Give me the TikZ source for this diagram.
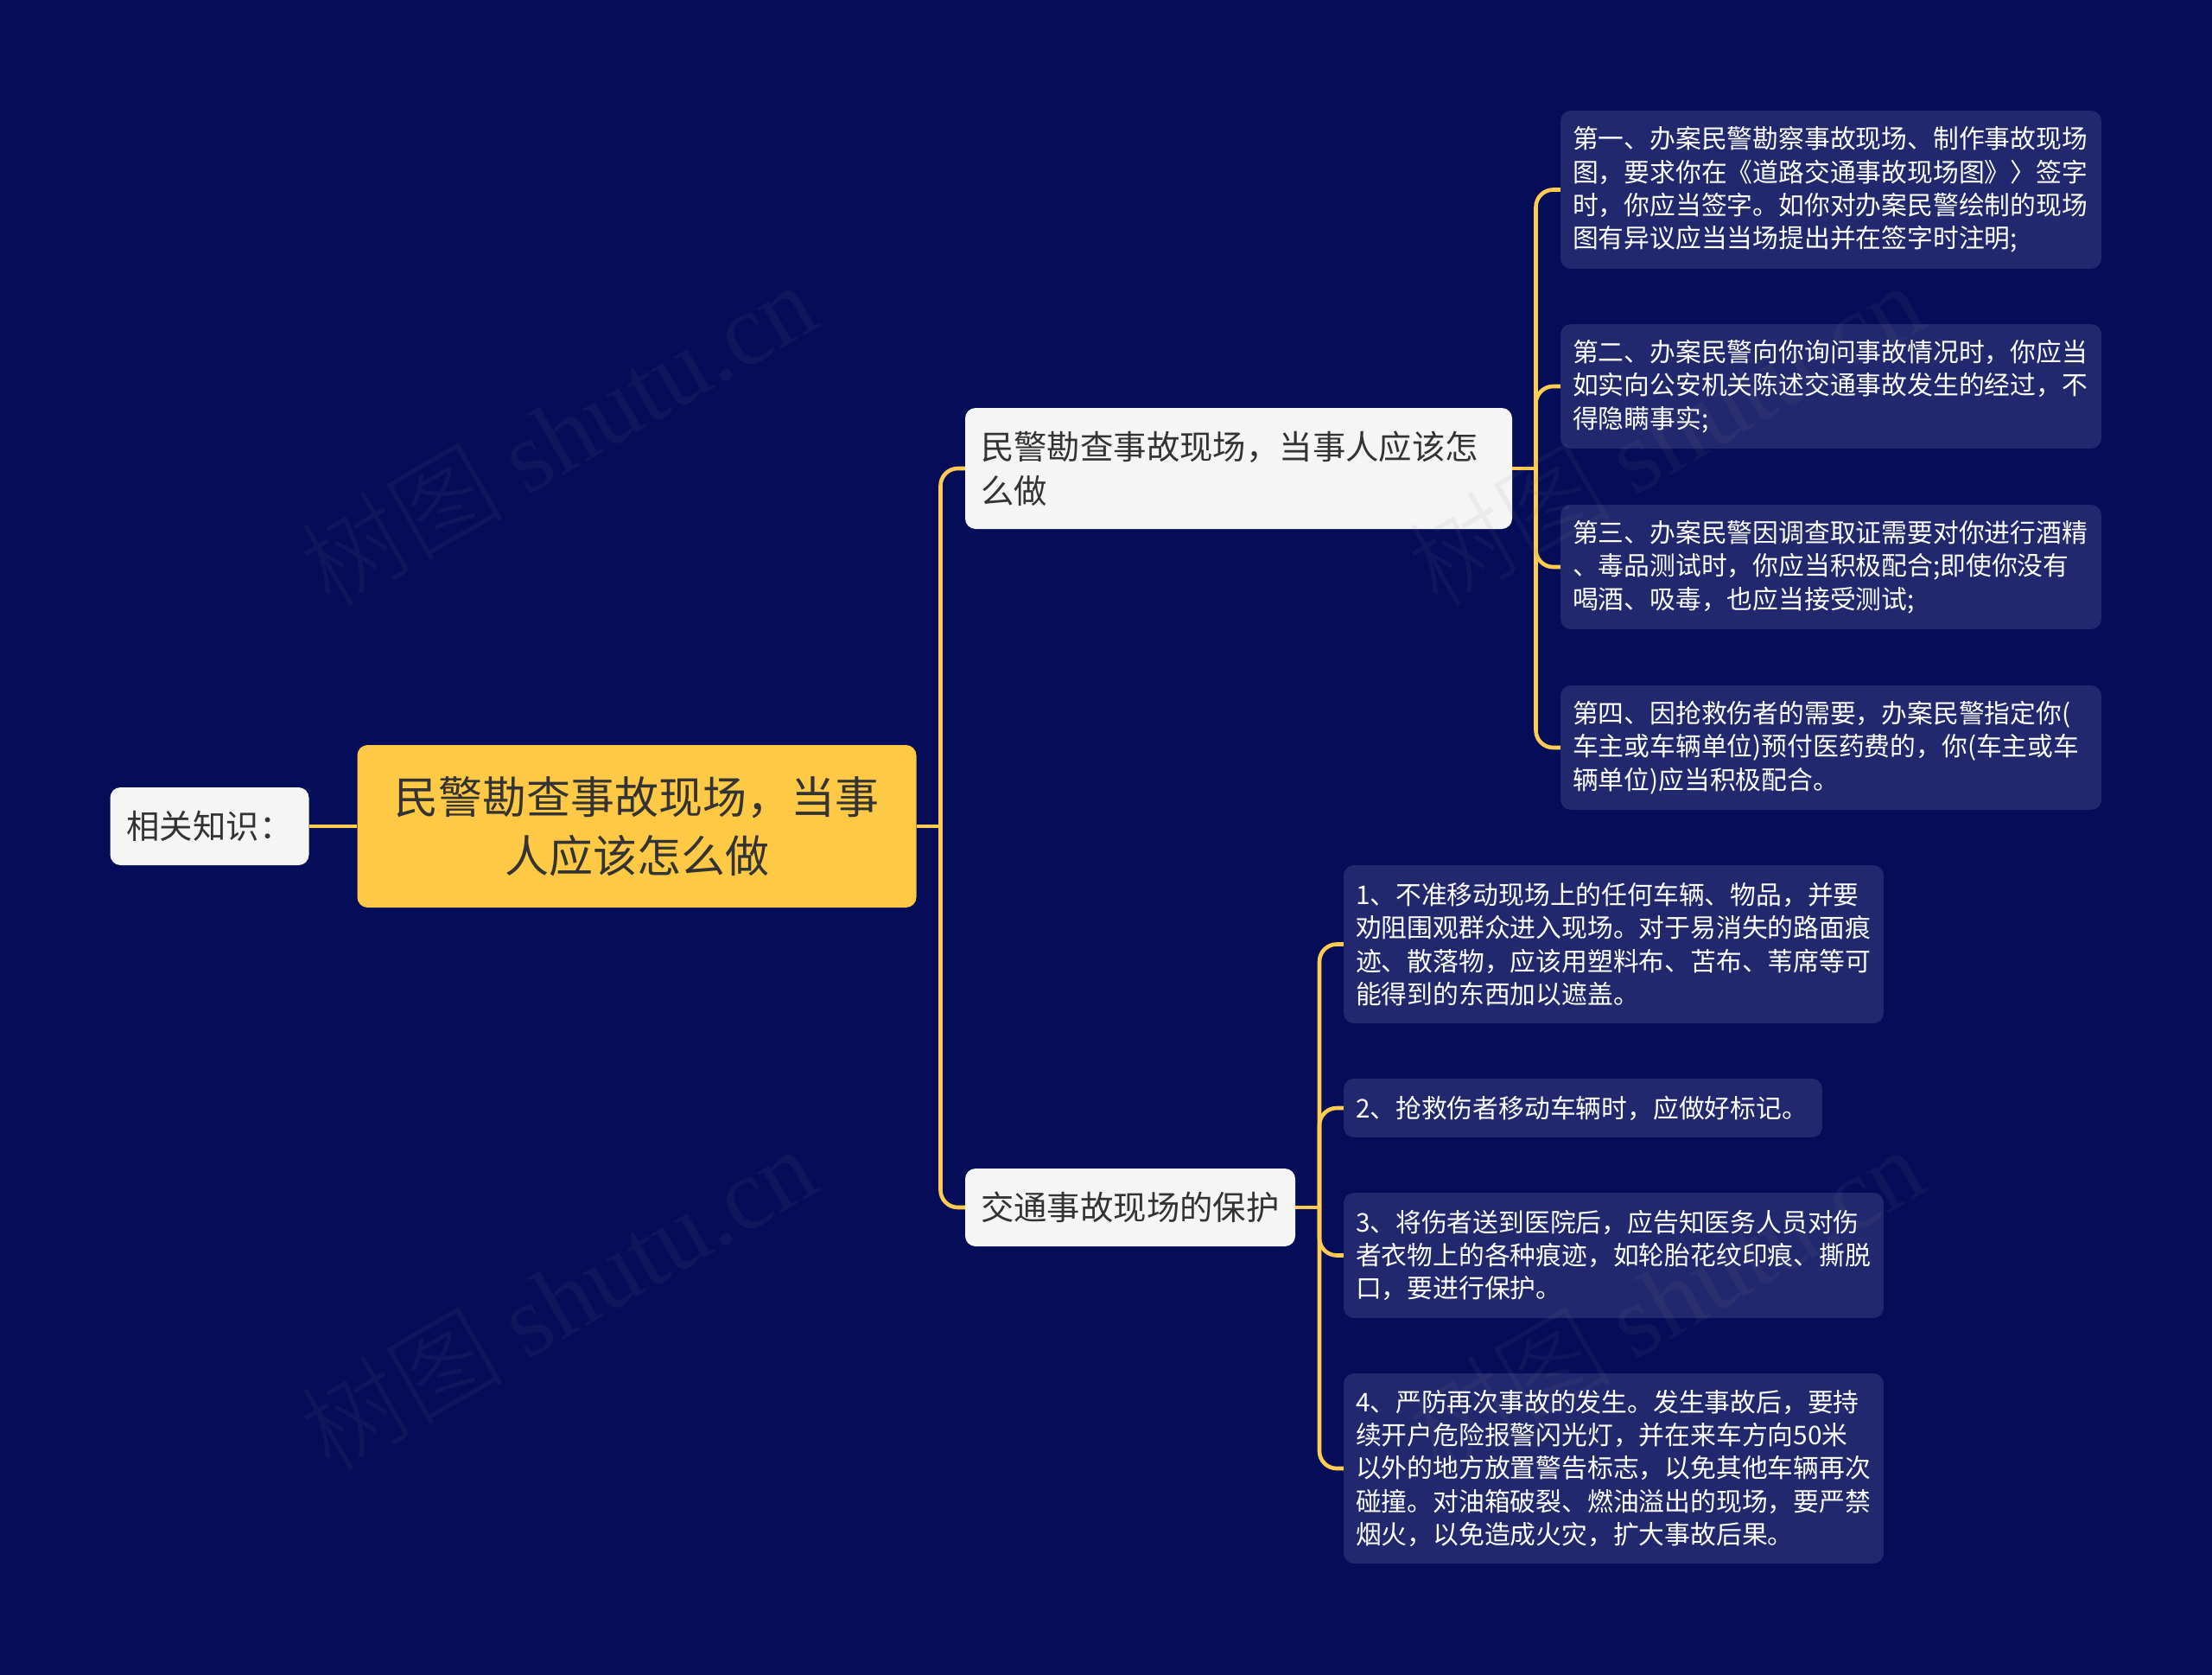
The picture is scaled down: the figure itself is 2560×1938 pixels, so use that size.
\documentclass[tikz,border=0pt]{standalone}
\usepackage{fontspec}
\setmainfont{Noto Sans CJK SC}[Scale=1.0]
\newfontfamily\wmcjk{Noto Sans CJK SC Light}
\newfontfamily\wmlat{Liberation Serif}
\definecolor{bgc}{HTML}{050C58}
\definecolor{leafc}{HTML}{22286E}
\definecolor{lightc}{HTML}{F5F5F5}
\definecolor{rootc}{HTML}{FFC845}
\definecolor{linec}{HTML}{FFCB50}
\definecolor{inkc}{HTML}{333333}
\tikzset{
  x=1pt,y=-1pt,
  basebox/.style n args={2}{rectangle,rounded corners=12pt,inner sep=0pt,
    minimum width=#1 pt,minimum height=#2 pt},
  leafbox/.style n args={2}{basebox={#1}{#2},fill=leafc,text=white,align=left,
    text width=#1 pt-28pt,font=\fontsize{29.8}{38.4}\selectfont,
    execute at end node={\par\vskip-3pt}},
  branchbox/.style n args={2}{basebox={#1}{#2},fill=lightc,text=inkc,align=left,
    text width=#1 pt-36pt,font=\fontsize{38.4}{51}\selectfont},
  rootbox/.style n args={2}{basebox={#1}{#2},fill=rootc,text=inkc,align=center,
    text width=#1 pt-30pt,font=\fontsize{51}{68}\selectfont},
  link/.style={draw=linec,line width=4.6pt,rounded corners=20pt},
  wmark/.style={rotate=30,text=gray,text opacity=0.09,inner sep=0pt,font=\fontsize{118}{118}\selectfont},
}
\begin{document}
\begin{tikzpicture}
\useasboundingbox[fill=bgc] (0,0) rectangle (2560,1938);
% nodes
\node[rootbox={647}{188}] (root) at (737,956) {民警勘查事故现场，当事\\人应该怎么做};
\node[branchbox={230}{90}] (know) at (242.5,956) {\hspace*{1pt}相关知识：};
\node[branchbox={633}{140}] (b1) at (1433.5,542) {民警勘查事故现场，当事人应该怎\\么做};
\node[branchbox={382}{90}] (b2) at (1308,1397) {交通事故现场的保护};
\node[leafbox={626}{183}] (a1) at (2119,219.5) {第一、办案民警勘察事故现场、制作事故现场\\图，要求你在《道路交通事故现场图》〉签字\\时，你应当签字。如你对办案民警绘制的现场\\图有异议应当当场提出并在签字时注明;};
\node[leafbox={626}{144}] (a2) at (2119,447) {第二、办案民警向你询问事故情况时，你应当\\如实向公安机关陈述交通事故发生的经过，不\\得隐瞒事实;};
\node[leafbox={626}{144}] (a3) at (2119,656) {第三、办案民警因调查取证需要对你进行酒精\\、毒品测试时，你应当积极配合;即使你没有\\喝酒、吸毒，也应当接受测试;};
\node[leafbox={626}{144}] (a4) at (2119,865) {第四、因抢救伤者的需要，办案民警指定你(\\车主或车辆单位)预付医药费的，你(车主或车\\辆单位)应当积极配合。};
\node[leafbox={625}{183}] (c1) at (1867.5,1092.5) {1、不准移动现场上的任何车辆、物品，并要\\劝阻围观群众进入现场。对于易消失的路面痕\\迹、散落物，应该用塑料布、苫布、苇席等可\\能得到的东西加以遮盖。};
\node[leafbox={554}{68}] (c2) at (1832,1282) {2、抢救伤者移动车辆时，应做好标记。};
\node[leafbox={625}{145}] (c3) at (1867.5,1452.5) {3、将伤者送到医院后，应告知医务人员对伤\\者衣物上的各种痕迹，如轮胎花纹印痕、撕脱\\口，要进行保护。};
\node[leafbox={625}{220}] (c4) at (1867.5,1699) {4、严防再次事故的发生。发生事故后，要持\\续开户危险报警闪光灯，并在来车方向50米\\以外的地方放置警告标志，以免其他车辆再次\\碰撞。对油箱破裂、燃油溢出的现场，要严禁\\烟火，以免造成火灾，扩大事故后果。};
% junctions
\coordinate (t0) at (1088.5,956);
\coordinate (t1) at (1777.5,542);
\coordinate (t2) at (1527,1397);
% connectors
\draw[link] (know.east) -- (root.west);
\draw[link] (root.east) -- (t0);
\draw[link] (t0) |- (b1.west);
\draw[link] (t0) |- (b2.west);
\draw[link] (b1.east) -- (t1);
\draw[link] (t1) |- (a1.west);
\draw[link] (t1) |- (a2.west);
\draw[link] (t1) |- (a3.west);
\draw[link] (t1) |- (a4.west);
\draw[link] (b2.east) -- (t2);
\draw[link] (t2) |- (c1.west);
\draw[link] (t2) |- (c2.west);
\draw[link] (t2) |- (c3.west);
\draw[link] (t2) |- (c4.west);
% watermarks
\node[wmark] (w1) at (645,502) {{\wmcjk 树图} {\wmlat shutu.cn}};
\node[wmark] (w2) at (1927,502) {{\wmcjk 树图} {\wmlat shutu.cn}};
\node[wmark] (w3) at (645,1502) {{\wmcjk 树图} {\wmlat shutu.cn}};
\node[wmark] (w4) at (1927,1502) {{\wmcjk 树图} {\wmlat shutu.cn}};
\end{tikzpicture}
\end{document}
